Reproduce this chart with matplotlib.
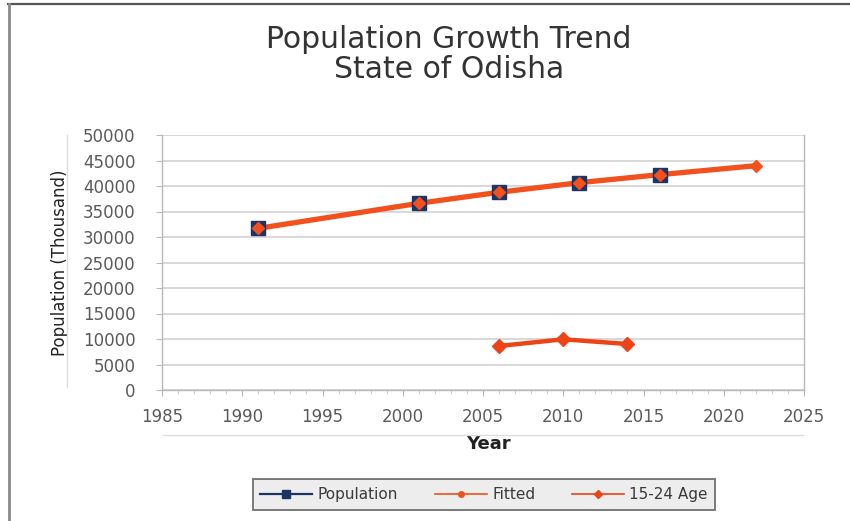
import matplotlib
matplotlib.use("Agg")
import matplotlib.pyplot as plt
from matplotlib.lines import Line2D

# Census / estimate years and population (thousand)
pop_years = [1991, 2001, 2006, 2011, 2016]
pop_values = [31700, 36600, 38770, 40650, 42220]

# Trend fitted through the census points and extended to 2022
fit_years = [1991, 2001, 2006, 2011, 2016, 2022]
fit_values = [31700, 36600, 38770, 40650, 42220, 43980]

# Population in the 15-24 age band (thousand)
youth_years = [2006, 2010, 2014]
youth_values = [8630, 9940, 9020]

x_ticks = [1985, 1990, 1995, 2000, 2005, 2010, 2015, 2020, 2025]
y_ticks = list(range(0, 50001, 5000))

navy = "#1d3566"
orange = "#f2501c"
red_orange = "#ec4416"
grid_c = "#d6d6d6"
text_c = "#5a5a5a"

plt.rcParams["font.family"] = ["DejaVu Sans"]

fig = plt.figure(figsize=(8.5, 5.21), dpi=100)
fig.patch.set_facecolor("white")

W, H = 850, 521
ax = fig.add_axes([162 / W, (H - 390) / H, (804 - 162) / W, (390 - 135) / H])

ax.plot(fit_years, fit_values, color=orange, lw=3.8, zorder=3,
        solid_capstyle="round")
ax.plot(pop_years, pop_values, linestyle="none", marker="s", ms=10.5,
        mfc=navy, mec=navy, zorder=4)
ax.plot(fit_years, fit_values, linestyle="none", marker="D", ms=6.5,
        mfc=orange, mec=orange, zorder=5)
ax.plot(youth_years, youth_values, color=red_orange, lw=3.2, marker="D",
        ms=7.5, mfc=red_orange, mec=red_orange, zorder=3)

ax.set_xlim(x_ticks[0], x_ticks[-1])
ax.set_ylim(y_ticks[0], y_ticks[-1])
ax.set_xticks(x_ticks)
ax.set_xticks(range(x_ticks[0], x_ticks[-1] + 1), minor=True)
ax.set_yticks(y_ticks)

ax.grid(axis="y", color=grid_c, lw=1.3, zorder=0)
ax.set_axisbelow(True)
for side in ("left", "bottom", "right"):
    ax.spines[side].set_color("#b8b8b8")
    ax.spines[side].set_linewidth(1.0)
ax.spines["top"].set_visible(False)

ax.tick_params(axis="both", which="major", length=4, color="#b8b8b8",
               labelsize=12, labelcolor=text_c)
ax.tick_params(axis="x", which="major", pad=9)
ax.tick_params(axis="y", which="major", pad=15)
ax.tick_params(axis="x", which="minor", length=3, color="#c4c4c4")

ax.set_xlabel("Year", fontsize=13, fontweight="bold", color="#222222")
ax.xaxis.set_label_coords((488 - 162) / (804 - 162), -(435 - 390) / (390 - 135))
ax.set_ylabel("Population (Thousand)", fontsize=12, color="#222222")
ax.yaxis.set_label_coords(-(162 - 69) / (804 - 162), (390 - 263) / (390 - 135))

# faint guide lines beside the axis titles
fig.add_artist(Line2D([67 / W, 67 / W], [(H - 387) / H, (H - 135) / H],
                      color="#dddddd", lw=1.0))
fig.add_artist(Line2D([163 / W, 803 / W], [(H - 435) / H, (H - 435) / H],
                      color="#dddddd", lw=1.0))

fig.text(449 / W, 1 - 40 / H, "Population Growth Trend", ha="center",
         va="center", fontsize=21.5, color="#333333")
fig.text(449 / W, 1 - 70 / H, "State of Odisha", ha="center",
         va="center", fontsize=21.5, color="#333333")

# outer frame of the chart
fig.add_artist(Line2D([8 / W, 1], [1 - 4 / H, 1 - 4 / H], color="#555555",
                      lw=1.6))
fig.add_artist(Line2D([9 / W, 9 / W], [0, 1 - 4 / H], color="#8a8a8a",
                      lw=2.0))

handles = [
    Line2D([], [], color=navy, lw=1.6, marker="s", ms=6, mfc=navy, mec=navy),
    Line2D([], [], color=orange, lw=1.2, marker="o", ms=4, mfc=orange,
           mec=orange),
    Line2D([], [], color=red_orange, lw=1.2, marker="D", ms=4,
           mfc=red_orange, mec=red_orange),
]
leg = fig.legend(handles, ["Population", "Fitted", "15-24 Age"], ncol=3,
                 loc="center", bbox_to_anchor=(484 / W, 1 - 494.5 / H),
                 frameon=True, fontsize=11, handlelength=3.4,
                 columnspacing=2.4, handletextpad=0.35, borderpad=0.5,
                 fancybox=False, labelcolor="#3a3a3a")
leg.get_frame().set_facecolor("#e9e9e9")
leg.get_frame().set_edgecolor("#5a5a5a")
leg.get_frame().set_linewidth(1.4)

fig.savefig("out.png", dpi=100, facecolor="white")
